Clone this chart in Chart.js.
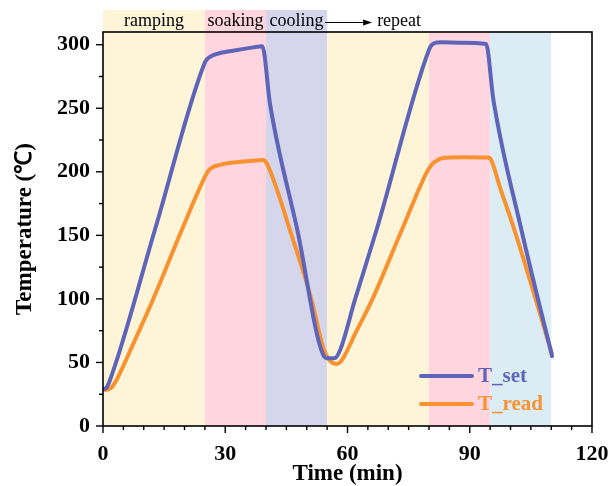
<!DOCTYPE html>
<html><head><meta charset="utf-8">
<script src="https://cdn.jsdelivr.net/npm/chart.js@4"></script>
<style>html,body{margin:0;padding:0;background:#fff}#wrap{width:611px;height:486px;position:relative}</style>
</head><body><div id="wrap"><canvas id="c" width="611" height="486"></canvas></div>
<script>
// ---- data ----
const setTime = [0,0.8,1.7,12.8,25,25.5,26.5,28,31.9,36.9,39.1,41,47.7,54.3,55,56.8,58.2,61.8,67.1,80,80.6,81.5,83,88,94,95.8,102.7,110.2];
const setTemp = [29,30,36,155,286,288.5,291,292.8,295.3,297.9,298.7,253,154,54.5,53.3,53.3,59.8,99,154,296,299.5,301.5,302,301.5,300.5,256.7,154,55];
const readTime = [0,1,2,3.3,4.9,8.6,12.2,19.3,25,25.8,26.8,28.7,32,36,39.3,40.1,41.8,45.9,51.2,54,55.5,57.3,58.3,59.4,61.8,66,73.3,79.5,80.5,81.5,83.4,88,94.5,95.3,97.4,101,105.5,110.1];
const readTemp = [28.5,28.5,30,36,46.7,73,99,154,196,200.5,203.5,205.5,207.3,208.5,209.2,207,194,154,99,62,52,48.8,50.5,56,72,99,154,200,205,208,210.8,211.5,211.2,209,188,154,107,57.5];
const seriesNames = ['T_set','T_read'];
const seriesColors = ['#5E64B8','#F7922F'];
const bandStart = [0,25,40,55,80,95];
const bandEnd = [25,40,55,80,95,110];
const bandColors = ['#FEF5D8','#FFD6DF','#D5D5EC','#FEF5D8','#FFD6DF','#DCECF5'];
const phaseNames = ['ramping','soaking','cooling'];
const repeatLabel = 'repeat';
const xTickLabels = [0,30,60,90,120];
const yTickLabels = [0,50,100,150,200,250,300];

const SERIF = "'Liberation Serif','Times New Roman',serif";

const bgPlugin = {
  id:'bg',
  beforeDraw(chart){
    const {ctx, chartArea:a, scales:{x}} = chart;
    ctx.save();
    ctx.fillStyle='#fff'; ctx.fillRect(0,0,chart.width,chart.height);
    bandStart.forEach((s,i)=>{
      const x0 = x.getPixelForValue(s), x1 = x.getPixelForValue(bandEnd[i]);
      const top = i < phaseNames.length ? 10 : a.top;
      ctx.fillStyle = bandColors[i];
      ctx.fillRect(x0, top, x1-x0, a.bottom-top);
    });
    ctx.fillStyle='#000';
    ctx.font = "18px "+SERIF;
    ctx.textAlign='center'; ctx.textBaseline='middle';
    phaseNames.forEach((n,i)=>{
      const cx = (x.getPixelForValue(bandStart[i])+x.getPixelForValue(bandEnd[i]))/2;
      ctx.fillText(n, cx, 21);
    });
    const ax0 = x.getPixelForValue(bandEnd[phaseNames.length-1]) - 2;
    const ax1 = ax0 + 47;
    ctx.strokeStyle='#000'; ctx.lineWidth=1;
    ctx.beginPath(); ctx.moveTo(ax0,22.5); ctx.lineTo(ax1-7,22.5); ctx.stroke();
    ctx.beginPath(); ctx.moveTo(ax1,22.5); ctx.lineTo(ax1-9,19.5); ctx.lineTo(ax1-9,25.5); ctx.closePath(); ctx.fill();
    ctx.textAlign='left';
    ctx.fillText(repeatLabel, ax1+5, 21);
    ctx.restore();
  },
  afterDraw(chart){
    const {ctx, chartArea:a, scales:{x,y}} = chart;
    ctx.save();
    ctx.strokeStyle='#000'; ctx.lineWidth=1.6;
    ctx.strokeRect(a.left, a.top, a.right-a.left, a.bottom-a.top);
    ctx.lineWidth=1.4;
    x.ticks.forEach(t=>{
      const px = x.getPixelForValue(t.value);
      const len = xTickLabels.includes(t.value)?7:4;
      ctx.beginPath(); ctx.moveTo(px,a.bottom); ctx.lineTo(px,a.bottom+len); ctx.stroke();
    });
    y.ticks.forEach(t=>{
      const py = y.getPixelForValue(t.value);
      const len = yTickLabels.includes(t.value)?7:4;
      ctx.beginPath(); ctx.moveTo(a.left,py); ctx.lineTo(a.left-len,py); ctx.stroke();
    });
    ctx.font = "bold 21px "+SERIF;
    ctx.textAlign='left'; ctx.textBaseline='middle';
    chart.data.datasets.forEach((d,i)=>{
      const ly = 376 + i*28;
      ctx.strokeStyle = d.borderColor; ctx.lineWidth = 4; ctx.lineCap='round';
      ctx.beginPath(); ctx.moveTo(421,ly); ctx.lineTo(472,ly); ctx.stroke();
      ctx.fillStyle = d.borderColor;
      ctx.fillText(d.label, 478, ly+1);
    });
    ctx.restore();
  }
};

const mk = (xs,ys)=>xs.map((t,i)=>({x:t,y:ys[i]}));

new Chart(document.getElementById('c'),{
  type:'line',
  data:{datasets:[
    {label:seriesNames[0], data:mk(setTime,setTemp), borderColor:seriesColors[0], borderWidth:4, pointRadius:0, cubicInterpolationMode:'monotone', borderJoinStyle:'round', borderCapStyle:'round'},
    {label:seriesNames[1], data:mk(readTime,readTemp), borderColor:seriesColors[1], borderWidth:4, pointRadius:0, cubicInterpolationMode:'monotone', borderJoinStyle:'round', borderCapStyle:'round'}
  ]},
  options:{
    responsive:false, animation:false, devicePixelRatio:1,
    layout:{padding:{left:0,right:19,top:32,bottom:0}},
    plugins:{legend:{display:false}, tooltip:{enabled:false}},
    scales:{
      x:{type:'linear', min:0, max:120,
        grid:{display:true, drawOnChartArea:false, drawTicks:true, tickLength:15, color:'rgba(0,0,0,0)', tickColor:'rgba(0,0,0,0)'},
        border:{display:false},
        ticks:{stepSize:5, autoSkip:false, maxRotation:0, includeBounds:false, padding:0, color:'#000',
          font:{family:SERIF, size:22, weight:'bold'},
          callback:v=>xTickLabels.includes(v)?String(v):''},
        title:{display:true, text:'Time (min)', color:'#000', font:{family:SERIF, size:23, weight:'bold', lineHeight:1}, padding:{top:0,bottom:0}},
        afterFit:s=>{s.height=60;}
      },
      y:{type:'linear', min:0, max:310,
        grid:{display:true, drawOnChartArea:false, drawTicks:true, tickLength:13, color:'rgba(0,0,0,0)', tickColor:'rgba(0,0,0,0)'},
        border:{display:false},
        ticks:{stepSize:25, autoSkip:false, includeBounds:false, padding:0, color:'#000',
          font:{family:SERIF, size:22, weight:'bold'},
          callback:v=>yTickLabels.includes(v)?String(v):''},
        title:{display:true, text:'Temperature (℃)', color:'#000', font:{family:SERIF, size:23, weight:'bold'}, padding:{top:11,bottom:0}},
        afterFit:s=>{s.width=103;}
      }
    }
  },
  plugins:[bgPlugin]
});
</script></body></html>
